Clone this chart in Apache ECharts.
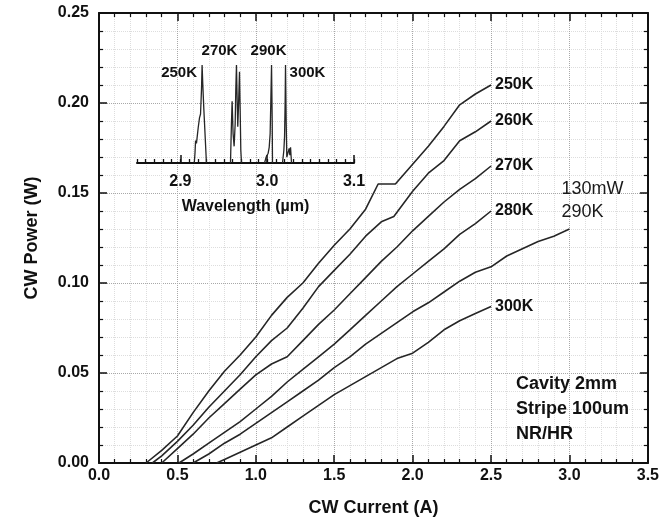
<!DOCTYPE html>
<html>
<head>
<meta charset="utf-8">
<script src="https://cdn.jsdelivr.net/npm/echarts@6/dist/echarts.min.js"></script>
<style>
  html, body { margin: 0; padding: 0; background: #fff; }
  #chart { width: 662px; height: 526px; }
</style>
</head>
<body>
<div id="chart"></div>
<script>
// CW light-current curves, one per heat-sink temperature
const current250 = [0.30, 0.40, 0.50, 0.60, 0.70, 0.80, 0.90, 1.00, 1.10, 1.20, 1.30, 1.40, 1.50, 1.60, 1.70, 1.78, 1.89, 2.00, 2.10, 2.20, 2.30, 2.40, 2.50];
const power250   = [0.000, 0.007, 0.015, 0.028, 0.040, 0.051, 0.060, 0.070, 0.082, 0.092, 0.100, 0.111, 0.121, 0.130, 0.141, 0.155, 0.155, 0.166, 0.176, 0.187, 0.199, 0.205, 0.210];

const current260 = [0.34, 0.40, 0.50, 0.60, 0.70, 0.80, 0.90, 1.00, 1.10, 1.20, 1.30, 1.40, 1.50, 1.60, 1.70, 1.80, 1.88, 2.00, 2.10, 2.20, 2.30, 2.40, 2.50];
const power260   = [0.000, 0.004, 0.012, 0.021, 0.031, 0.040, 0.049, 0.059, 0.068, 0.075, 0.086, 0.098, 0.107, 0.116, 0.126, 0.134, 0.137, 0.151, 0.161, 0.168, 0.179, 0.184, 0.190];

const current270 = [0.40, 0.50, 0.60, 0.70, 0.80, 0.90, 1.00, 1.10, 1.20, 1.30, 1.40, 1.50, 1.60, 1.70, 1.80, 1.90, 2.00, 2.10, 2.20, 2.30, 2.40, 2.50];
const power270   = [0.000, 0.008, 0.016, 0.025, 0.033, 0.041, 0.049, 0.055, 0.059, 0.068, 0.077, 0.085, 0.094, 0.103, 0.112, 0.120, 0.129, 0.137, 0.145, 0.152, 0.158, 0.165];

const current280 = [0.51, 0.60, 0.70, 0.80, 0.90, 1.00, 1.10, 1.20, 1.30, 1.40, 1.50, 1.60, 1.70, 1.80, 1.90, 2.00, 2.10, 2.20, 2.30, 2.40, 2.50];
const power280   = [0.000, 0.005, 0.011, 0.017, 0.023, 0.030, 0.037, 0.045, 0.052, 0.059, 0.066, 0.074, 0.082, 0.090, 0.098, 0.105, 0.112, 0.119, 0.127, 0.133, 0.140];

const current290 = [0.60, 0.70, 0.80, 0.90, 1.00, 1.10, 1.20, 1.30, 1.40, 1.50, 1.60, 1.70, 1.80, 1.90, 2.00, 2.10, 2.20, 2.30, 2.40, 2.50, 2.60, 2.70, 2.80, 2.90, 3.00];
const power290   = [0.000, 0.005, 0.011, 0.016, 0.022, 0.028, 0.034, 0.040, 0.046, 0.053, 0.059, 0.066, 0.072, 0.078, 0.084, 0.089, 0.095, 0.101, 0.106, 0.109, 0.115, 0.119, 0.123, 0.126, 0.130];

const current300 = [0.75, 0.80, 0.90, 1.00, 1.10, 1.20, 1.30, 1.40, 1.50, 1.60, 1.70, 1.80, 1.90, 2.00, 2.10, 2.20, 2.30, 2.40, 2.50];
const power300   = [0.000, 0.002, 0.006, 0.010, 0.014, 0.020, 0.026, 0.032, 0.038, 0.043, 0.048, 0.053, 0.058, 0.061, 0.067, 0.074, 0.079, 0.083, 0.087];

// Normalised emission spectra (inset)
const lambda250 = [2.9160, 2.9168, 2.9175, 2.9185, 2.9195, 2.9205, 2.9220, 2.9232, 2.9243, 2.9250, 2.9258, 2.9270, 2.9288, 2.9300];
const spec250   = [0, 0.10, 0.23, 0.20, 0.28, 0.36, 0.46, 0.50, 0.75, 1.00, 0.80, 0.55, 0.22, 0];

const lambda270 = [2.9577, 2.9588, 2.9596, 2.9607, 2.9619, 2.9631, 2.9638, 2.9646, 2.9654, 2.9661, 2.9669, 2.9681, 2.9688, 2.9696, 2.9704];
const spec270   = [0, 0.40, 0.63, 0.30, 0.17, 0.40, 0.74, 1.00, 0.64, 0.37, 0.57, 0.93, 0.57, 0.13, 0];

const lambda290 = [2.9969, 2.9988, 3.0011, 3.0023, 3.0034, 3.0042, 3.0050, 3.0058, 3.0061];
const spec290   = [0, 0.06, 0.10, 0.16, 0.30, 0.64, 1.00, 0.40, 0];

const lambda300 = [3.0176, 3.0192, 3.0200, 3.0207, 3.0211, 3.0219, 3.0226, 3.0242, 3.0253, 3.0261, 3.0269, 3.0280];
const spec300   = [0, 0.13, 0.27, 0.64, 1.00, 0.40, 0.06, 0.08, 0.15, 0.08, 0.16, 0];

// Axis tick values
const currentTicks = [0.0, 0.5, 1.0, 1.5, 2.0, 2.5, 3.0, 3.5];
const powerTicks = [0.00, 0.05, 0.10, 0.15, 0.20, 0.25];
const lambdaLabels = [2.9, 3.0, 3.1];
const lambdaMin = 2.85, lambdaMax = 3.1;

const FONT = "'Liberation Sans', Arial, Helvetica, sans-serif";
const INK = '#111';
const CURVE = '#262626';

const pairs = (xs, ys) => xs.map((x, i) => [x, ys[i]]);

const lambdaMinor = [];
for (let k = Math.round(lambdaMin * 100); k <= Math.round(lambdaMax * 100); k++) lambdaMinor.push(k / 100);

const frameAxis = {
  axisLine: { show: true, onZero: false, lineStyle: { color: INK, width: 2 } },
  axisTick: { show: true, inside: true, length: 8, lineStyle: { color: INK, width: 1.5 } },
  minorTick: { show: true, splitNumber: 5, length: 4, lineStyle: { color: INK, width: 1.2 } }
};

function lightCurve(name, xs, ys, endLabel) {
  return {
    name, type: 'line', xAxisIndex: 0, yAxisIndex: 0,
    data: pairs(xs, ys), symbol: 'none', smooth: false,
    lineStyle: { color: CURVE, width: 1.6 },
    endLabel: Object.assign({
      show: true, formatter: name, distance: 4,
      fontFamily: FONT, fontSize: 16, fontWeight: 'bold', color: INK
    }, endLabel || {}),
    z: 3
  };
}

function spectrum(name, xs, ys, labelOffset) {
  let iMax = 0;
  ys.forEach((v, i) => { if (v > ys[iMax]) iMax = i; });
  return {
    name: 'spec' + name, type: 'line', xAxisIndex: 2, yAxisIndex: 2,
    data: pairs(xs, ys), symbol: 'none',
    lineStyle: { color: CURVE, width: 1.3 },
    markPoint: {
      symbol: 'circle', symbolSize: 0, silent: true,
      data: [{ coord: [xs[iMax], ys[iMax]] }],
      label: {
        show: true, position: 'inside', formatter: name, offset: labelOffset,
        fontFamily: FONT, fontSize: 15, fontWeight: 'bold', color: INK
      }
    },
    z: 4
  };
}

const chart = echarts.init(document.getElementById('chart'), null, { renderer: 'canvas' });

chart.setOption({
  backgroundColor: '#fff',
  animation: false,
  textStyle: { fontFamily: FONT },
  grid: [
    { left: 99, right: 8, top: 13, bottom: 63 },
    { left: 137, width: 217, top: 65, height: 98 }
  ],
  xAxis: [
    Object.assign({}, frameAxis, {
      gridIndex: 0, type: 'value', position: 'bottom',
      min: currentTicks[0], max: currentTicks[currentTicks.length - 1], interval: 0.5,
      axisLabel: { margin: 5, fontSize: 16, fontWeight: 'bold', color: INK, fontFamily: FONT,
        formatter: v => v.toFixed(1) },
      splitLine: { show: true, lineStyle: { color: '#a8a8a8', type: 'dotted', width: 1 } },
      minorSplitLine: { show: true, lineStyle: { color: '#dddddd', type: 'dotted', width: 1 } },
      name: 'CW Current (A)', nameLocation: 'middle', nameGap: 36,
      nameTextStyle: { fontSize: 18, fontWeight: 'bold', color: INK, fontFamily: FONT }
    }),
    Object.assign({}, frameAxis, {
      gridIndex: 0, type: 'value', position: 'top',
      min: currentTicks[0], max: currentTicks[currentTicks.length - 1], interval: 0.5,
      axisLabel: { show: false }, splitLine: { show: false }
    }),
    {
      gridIndex: 1, type: 'value', position: 'bottom', min: lambdaMin, max: lambdaMax,
      axisLine: { show: true, onZero: false, lineStyle: { color: INK, width: 2 } },
      axisTick: { show: true, inside: true, length: 8, customValues: lambdaLabels,
        lineStyle: { color: INK, width: 1.5 } },
      axisLabel: { show: true, margin: 11, customValues: lambdaLabels,
        fontSize: 16, fontWeight: 'bold', color: INK, fontFamily: FONT,
        formatter: v => v.toFixed(1) },
      splitLine: { show: false },
      name: 'Wavelength (\u00b5m)', nameLocation: 'middle', nameGap: 36,
      nameTextStyle: { fontSize: 16, fontWeight: 'bold', color: INK, fontFamily: FONT }
    },
    {
      gridIndex: 1, type: 'value', position: 'bottom', min: lambdaMin, max: lambdaMax,
      axisLine: { show: false },
      axisTick: { show: true, inside: true, length: 4, customValues: lambdaMinor,
        lineStyle: { color: INK, width: 1.3 } },
      axisLabel: { show: false },
      splitLine: { show: false }
    }
  ],
  yAxis: [
    Object.assign({}, frameAxis, {
      gridIndex: 0, type: 'value', position: 'left',
      min: powerTicks[0], max: powerTicks[powerTicks.length - 1], interval: 0.05,
      axisLabel: { margin: 10, fontSize: 16, fontWeight: 'bold', color: INK, fontFamily: FONT,
        formatter: v => v.toFixed(2) },
      splitLine: { show: true, lineStyle: { color: '#a8a8a8', type: 'dotted', width: 1 } },
      minorSplitLine: { show: true, lineStyle: { color: '#dddddd', type: 'dotted', width: 1 } },
      name: 'CW Power (W)', nameLocation: 'middle', nameGap: 58,
      nameTextStyle: { fontSize: 18, fontWeight: 'bold', color: INK, fontFamily: FONT }
    }),
    Object.assign({}, frameAxis, {
      gridIndex: 0, type: 'value', position: 'right',
      min: powerTicks[0], max: powerTicks[powerTicks.length - 1], interval: 0.05,
      axisLabel: { show: false }, splitLine: { show: false }
    }),
    { gridIndex: 1, type: 'value', min: 0, max: 1, show: false }
  ],
  series: [
    lightCurve('250K', current250, power250),
    lightCurve('260K', current260, power260),
    lightCurve('270K', current270, power270),
    lightCurve('280K', current280, power280),
    lightCurve('290K', current290, power290, {
      formatter: '130mW\n290K', fontWeight: 'normal', fontSize: 18, lineHeight: 23,
      color: '#1a1a1a', offset: [-12, -28]
    }),
    lightCurve('300K', current300, power300),
    spectrum('250K', lambda250, spec250, [-23, 8]),
    spectrum('270K', lambda270, spec270, [-17, -14]),
    spectrum('290K', lambda290, spec290, [-3, -14]),
    spectrum('300K', lambda300, spec300, [22, 8])
  ],
  graphic: [
    {
      type: 'text', left: 516, top: 372, z: 10,
      style: {
        text: 'Cavity 2mm\nStripe 100um\nNR/HR',
        font: 'bold 18px ' + FONT, lineHeight: 25, fill: INK
      }
    }
  ]
});
</script>
</body>
</html>
